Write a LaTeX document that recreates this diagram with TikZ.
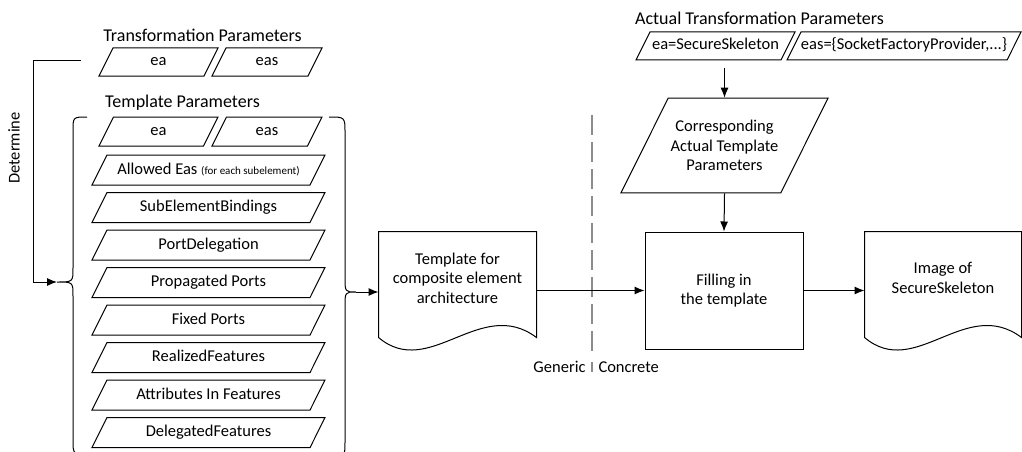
\documentclass[tikz,border=0pt]{standalone}
\usepackage{fontspec}
\setmainfont{Carlito}
\usetikzlibrary{shapes.geometric, arrows.meta, calc, positioning}

\newcommand\bodyfont{\fontsize{16.5}{19.5}\selectfont}
\newcommand\titlefont{\fontsize{18}{22}\selectfont}
\newcommand\smallfont{\fontsize{11}{13}\selectfont}

\begin{document}
\begin{tikzpicture}[x=1pt, y=-1pt, line width=1pt, >={Latex[length=10pt,width=8pt]},
            param/.style={trapezium, draw, trapezium left angle=63.5, trapezium right angle=116.5,
                trapezium stretches body, inner xsep=0pt, inner ysep=7pt, text height=12pt, text depth=4pt,
                minimum width=233pt},
            process/.style={rectangle, draw, align=center, minimum width=158pt, minimum height=117pt},
            doc/.style={rectangle, align=center, minimum height=92pt},
            divider/.style={draw=black!45, line width=1.6pt}]
        \tikzstyle{every node}=[font=\bodyfont]
        \useasboundingbox (0,0) rectangle (1022,452);

        % transformation parameters
        \node(tt) at (202.5,35) {\titlefont Transformation Parameters};
        \node[param, inner ysep=6pt, minimum width=119pt](tea) at (158.5,62) {ea};
        \node[param, inner ysep=6pt, minimum width=110pt](teas) at (267,62) {eas};

        % template parameters
        \node(tp) at (182.5,103) {\titlefont Template Parameters};
        \node[param, inner ysep=6.5pt, minimum width=119pt](pea) at (158.5,131.5) {ea};
        \node[param, inner ysep=6.5pt, minimum width=110pt](peas) at (267,131.5) {eas};
        \node[param](allow) at (208.5,170) {Allowed Eas {\smallfont (for each subelement)}};
        \node[param, below=6.5pt of allow](subel) {SubElementBindings};
        \node[param, below=6.5pt of subel](portdel) {PortDelegation};
        \node[param, below=6.5pt of portdel](propag) {Propagated Ports};
        \node[param, below=6.5pt of propag](fixed) {Fixed Ports};
        \node[param, below=6.5pt of fixed](realiz) {RealizedFeatures};
        \node[param, below=6.5pt of realiz](attrib) {Attributes In Features};
        \node[param, below=6.5pt of attrib](delegf) {DelegatedFeatures};

        % braces round the template parameters
        \coordinate(lbr) at (57,282);
        \coordinate(rbr) at (356,292);
        \draw (87,117) .. controls (73,117) .. (73,131) -- (73,268) .. controls (73,282) .. (lbr)
            .. controls (73,282) .. (73,296) -- (73,440) .. controls (73,454) .. (87,454);
        \draw (329,117) .. controls (345,117) .. (345,133) -- (345,277) .. controls (345,292) .. (rbr)
            .. controls (345,292) .. (345,307) -- (345,442) .. controls (345,456) .. (331,456);

        \coordinate(det) at (81,61);
        \draw[->] (det) -- ++(-48,0) |- (lbr);
        \node[rotate=90](detl) at (14,148) {Determine};

        % template document
        \node[doc, minimum width=157pt](tpl) at (457.5,278) {Template for\\composite element\\architecture};
        \draw (tpl.north west) -- (tpl.north east) -- ($(tpl.south east)+(0,13)$)
            .. controls ($(tpl.south east)+(-56,-29)$) and ($(tpl.south west)+(51,56)$) .. ($(tpl.south west)+(0,13)$) -- cycle;
        \draw[->] (rbr) -- (rbr -| tpl.west);

        % generic / concrete
        \draw[divider, dash pattern=on 20pt off 7pt] (592,115) -- (592,352);
        \draw[divider] (592,362) -- (592,372);
        \node[anchor=east, inner sep=0pt](gen) at (586,367) {Generic};
        \node[anchor=west, inner sep=0pt](conc) at (598,367) {Concrete};

        % actual parameters
        \node(at) at (759.5,18) {\titlefont Actual Transformation Parameters};
        \node[param, inner ysep=6pt, minimum width=159pt](aea) at (715.5,46) {ea=SecureSkeleton};
        \node[param, inner ysep=6pt, minimum width=234pt](aeas) at (904,46) {eas=\{SocketFactoryProvider,...\}};
        \node[trapezium, draw, trapezium left angle=63.5, trapezium right angle=116.5, trapezium stretches body,
            align=center, inner xsep=0pt, inner ysep=22pt, minimum width=207pt](corr) at (724.5,145.5) {Corresponding\\Actual Template\\Parameters};
        \coordinate(actin) at ($(corr.north)+(0,-30)$);
        \draw[->] (actin) -- (corr.north);

        \node[process](fill) at (724,290.5) {Filling in\\the template};
        \draw[->] (corr.south) -- (fill.north);
        \draw[->] (fill.west -| tpl.east) -- (fill.west);

        % image document
        \node[doc, minimum width=156pt](img) at (943,278) {Image of\\SecureSkeleton};
        \draw (img.north west) -- (img.north east) -- ($(img.south east)+(0,13)$)
            .. controls ($(img.south east)+(-56,-29)$) and ($(img.south west)+(51,56)$) .. ($(img.south west)+(0,13)$) -- cycle;
        \draw[->] (fill.east) -- (fill.east -| img.west);
    \end{tikzpicture}
\end{document}
